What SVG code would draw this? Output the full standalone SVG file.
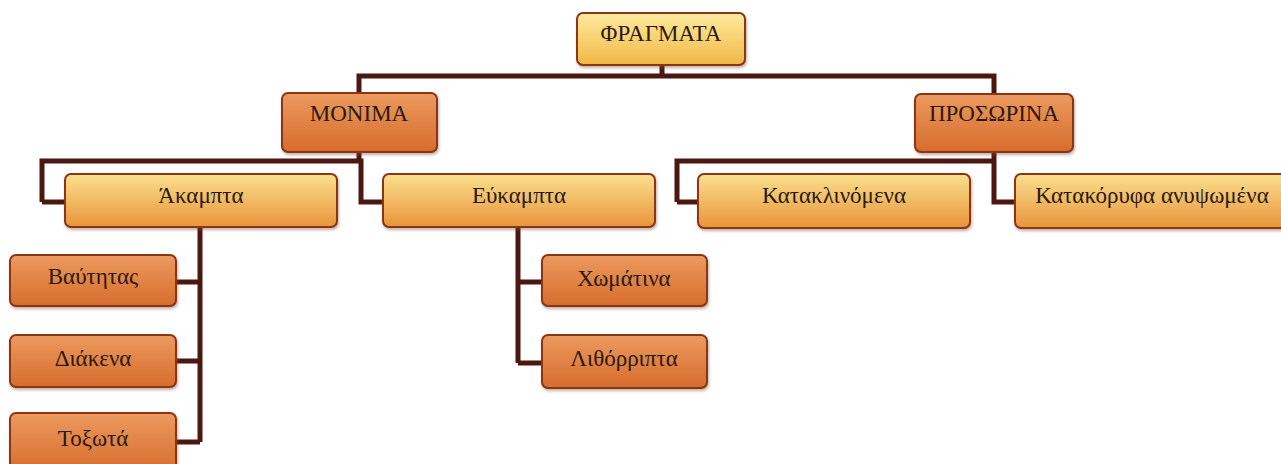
<svg xmlns="http://www.w3.org/2000/svg" width="1281" height="464" viewBox="0 0 1281 464">
<defs>
<linearGradient id="gTop" x1="0" y1="0" x2="0" y2="1">
<stop offset="0" stop-color="#fdeaa0"/><stop offset="1" stop-color="#f2b844"/>
</linearGradient>
<linearGradient id="gOr" x1="0" y1="0" x2="0" y2="1">
<stop offset="0" stop-color="#ec9a60"/><stop offset="1" stop-color="#d66c2c"/>
</linearGradient>
<linearGradient id="gYl" x1="0" y1="0" x2="0" y2="1">
<stop offset="0" stop-color="#fae08e"/><stop offset="1" stop-color="#e9943a"/>
</linearGradient>
<filter id="sh" x="-10%" y="-10%" width="120%" height="130%">
<feDropShadow dx="1" dy="2" stdDeviation="1.5" flood-color="#7a4a30" flood-opacity="0.45"/>
</filter>
</defs>
<style>
.box{stroke:#8a3418;stroke-width:2;filter:url(#sh)}
.t{font-family:"Liberation Serif","DejaVu Serif",serif;font-size:23px;fill:#2a1a10;text-anchor:middle;dominant-baseline:central}
.c{fill:none;stroke:#4a1810;stroke-width:5;stroke-linejoin:miter}
</style>
<rect width="1281" height="464" fill="#ffffff"/>
<g id="connectors">
<path class="c" d="M662 65 V76 M359 93 V76 H994 V94"/>
<path class="c" d="M359 152 V161 M42 202 V161 H361 V202 H383 M42 202 H65"/>
<path class="c" d="M994 152 V161 M677 202 V161 H994 V202 H1015 M677 202 H698"/>
<path class="c" d="M200 228 V442 M177 282 H200 M177 361 H200 M177 442 H200"/>
<path class="c" d="M518 228 V363 M518 282 H542 M518 363 H542"/>
</g>
<g id="n-fragmata"><rect class="box" x="577" y="13" width="168" height="52" rx="6" fill="url(#gTop)"/><text class="t" x="661" y="33">ΦΡΑΓΜΑΤΑ</text></g>
<g id="n-monima"><rect class="box" x="282" y="93" width="155" height="59" rx="6" fill="url(#gOr)"/><text class="t" x="359" y="113">ΜΟΝΙΜΑ</text></g>
<g id="n-prosorina"><rect class="box" x="915" y="94" width="158" height="58" rx="6" fill="url(#gOr)"/><text class="t" x="994" y="113">ΠΡΟΣΩΡΙΝΑ</text></g>
<g id="n-akampta"><rect class="box" x="65" y="174" width="272" height="53" rx="6" fill="url(#gYl)"/><text class="t" x="201" y="195">Άκαμπτα</text></g>
<g id="n-eukampta"><rect class="box" x="383" y="174" width="272" height="53" rx="6" fill="url(#gYl)"/><text class="t" x="519" y="195">Εύκαμπτα</text></g>
<g id="n-kataklinomena"><rect class="box" x="698" y="174" width="272" height="54" rx="6" fill="url(#gYl)"/><text class="t" x="834" y="195">Κατακλινόμενα</text></g>
<g id="n-katakoryfa"><rect class="box" x="1015" y="174" width="272" height="54" rx="6" fill="url(#gYl)"/><text class="t" x="1152" y="195">Κατακόρυφα ανυψωμένα</text></g>
<g id="n-vaythtas"><rect class="box" x="10" y="255" width="166" height="51" rx="6" fill="url(#gOr)"/><text class="t" x="93" y="276">Βαύτητας</text></g>
<g id="n-diakena"><rect class="box" x="10" y="335" width="166" height="52" rx="6" fill="url(#gOr)"/><text class="t" x="93" y="358">Διάκενα</text></g>
<g id="n-toxota"><rect class="box" x="10" y="413" width="166" height="60" rx="6" fill="url(#gOr)"/><text class="t" x="93" y="438">Τοξωτά</text></g>
<g id="n-xomatina"><rect class="box" x="542" y="255" width="165" height="51" rx="6" fill="url(#gOr)"/><text class="t" x="624" y="278">Χωμάτινα</text></g>
<g id="n-lithorripta"><rect class="box" x="542" y="335" width="165" height="53" rx="6" fill="url(#gOr)"/><text class="t" x="624" y="358">Λιθόρριπτα</text></g>
</svg>
